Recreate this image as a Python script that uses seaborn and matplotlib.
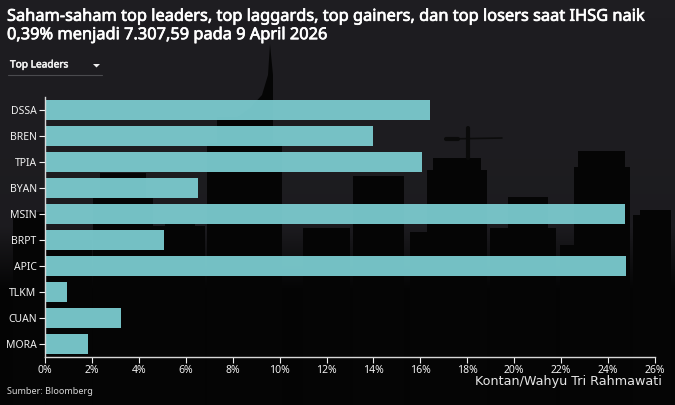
import numpy as np
import pandas as pd
import matplotlib
matplotlib.use('Agg')
import matplotlib.pyplot as plt
import matplotlib.patheffects as pe
import seaborn as sns

tickers = ['DSSA', 'BREN', 'TPIA', 'BYAN', 'MSIN', 'BRPT', 'APIC', 'TLKM', 'CUAN', 'MORA']
values = [16.4, 14.0, 16.07, 6.5, 24.72, 5.07, 24.77, 0.95, 3.25, 1.85]
xticks = list(range(0, 28, 2))
xlabels = ['%d%%' % t for t in xticks]

title = ('Saham-saham top leaders, top laggards, top gainers, dan top losers saat IHSG naik\n'
         '0,39% menjadi 7.307,59 pada 9 April 2026')

W, H = 675, 405
bar_color = '#7ccdd1'
text_color = '#f0f0f0'

sns.set_theme(style='dark')
plt.rcParams['font.family'] = ['Noto Sans', 'DejaVu Sans']

fig = plt.figure(figsize=(W / 100, H / 100), dpi=100, facecolor='#1d1c20')

# background photo: dark gradient + skyline, in pixel coordinates
bg = fig.add_axes([0, 0, 1, 1], zorder=0)
bg.set_xlim(0, W)
bg.set_ylim(H, 0)
bg.axis('off')
rows = np.arange(H)
grad = np.interp(rows, [0, 225, 290, H], [0.0, 0.05, 1.0, 1.0]).reshape(-1, 1)
cmap = matplotlib.colors.LinearSegmentedColormap.from_list('bgfade', ['#1e1d21', '#040404'])
bg.imshow(grad, extent=[0, W, H, 0], aspect='auto', cmap=cmap, vmin=0, vmax=1)

sky = '#050505'
# (left, right, top) of each building block, all run down to the bottom
buildings = [
    (13, 45, 212), (46, 92, 240), (93, 153, 198), (100, 146, 173), (153, 205, 226),
    (165, 195, 222), (207, 282, 143), (217, 273, 117), (303, 350, 228), (353, 404, 176),
    (410, 427, 232), (427, 487, 170), (433, 481, 158), (490, 556, 228), (508, 548, 197),
    (560, 574, 245), (574, 630, 167), (578, 625, 151), (633, 671, 215), (640, 671, 210),
]
for left, right, top in buildings:
    bg.fill_between([left, right], top, H, color=sky, lw=0)
# tower spire
bg.fill([236, 250, 262, 268, 270, 273, 273], [118, 108, 95, 75, 44, 75, 118], color=sky, lw=0)
# crane
bg.plot([446, 502], [139, 138], color='#0c0c0c', lw=1.2)
bg.plot([446, 458], [139, 139], color='#0a0a0a', lw=3)
bg.plot([468, 468], [128, 158], color='#0a0a0a', lw=3)

ax = fig.add_axes([45 / W, 1 - 357 / H, 610 / W, 260 / H], zorder=1)
ax.patch.set_alpha(0)
df = pd.DataFrame({'ticker': tickers, 'value': values})
sns.barplot(data=df, x='value', y='ticker', color=bar_color, saturation=1, alpha=0.94,
            width=0.8, linewidth=0, ax=ax)
ax.set_xlim(0, 26)
ax.set_xticks(xticks)
ax.set_xticklabels(xlabels)
ax.set_xlabel('')
ax.set_ylabel('')
ax.grid(False)
ax.tick_params(axis='both', colors=text_color, labelsize=7.5, length=4, width=0.8, pad=2,
               bottom=True, left=True)
sns.despine(ax=ax, top=True, right=True)
for side in ['left', 'bottom']:
    ax.spines[side].set_color('#d8d8d8')
    ax.spines[side].set_linewidth(1)

# regular weight thickened with a stroke, the bold face is not picked up
t = fig.text(7 / W, 1 - 26 / H, title, color='white', fontsize=11.8,
             va='center', linespacing=1.2, zorder=3)
t.set_path_effects([pe.withStroke(linewidth=0.5, foreground='white')])
t2 = fig.text(10 / W, 1 - 65 / H, 'Top Leaders', color=text_color, fontsize=7.3,
              va='center', zorder=3)
t2.set_path_effects([pe.withStroke(linewidth=0.4, foreground=text_color)])
# dropdown caret and underline
bg.fill([93, 100, 96.5], [64, 64, 67.5], color=text_color, lw=0)
bg.plot([8, 102], [75, 75], color='#4a4a4e', lw=0.8)
fig.text(7 / W, 1 - 392 / H, 'Sumber: Bloomberg', color='#d8d8d8', fontsize=6.5, va='center', zorder=3)
fig.text(662 / W, 1 - 382 / H, 'Kontan/Wahyu Tri Rahmawati', color='#e6e6e6', fontsize=9.2,
         family='DejaVu Sans', ha='right', va='center', zorder=3)

fig.savefig('out.png', dpi=100, facecolor=fig.get_facecolor())
